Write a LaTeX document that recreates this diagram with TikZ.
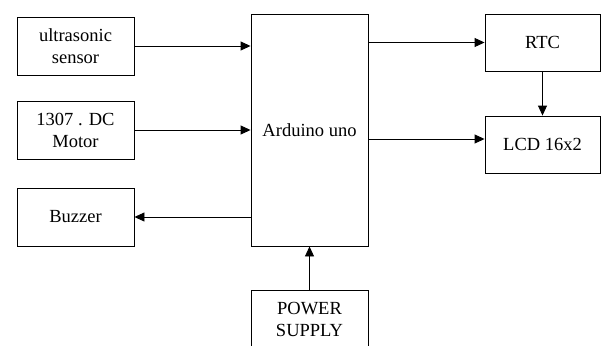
\documentclass[tikz,border=0pt]{standalone}
\usepackage{fontspec}
\setmainfont{Liberation Serif}
\usetikzlibrary{positioning,arrows.meta}

\begin{document}
\begin{tikzpicture}[x=1pt,y=-1pt,
  block/.style={rectangle,draw,line width=0.9pt,minimum width=117pt,minimum height=58pt,align=center,font=\fontsize{18.5}{22}\selectfont},
  arr/.style={line width=0.9pt,-{Triangle[length=10pt,width=9pt]}}]
  \useasboundingbox (0,0) rectangle (601,345);
  \node[block] (ultra) at (75.5,46) {ultrasonic\\sensor};
  \node[block] (motor) at (75.5,130) {1307 . DC\\Motor};
  \node[block] (buzz) at (75.5,217) {Buzzer};
  \node[block,minimum height=232pt] (ard) at (309.5,130) {Arduino uno};
  \node[block,minimum width=115pt,minimum height=57pt] (rtc) at (542.5,42.5) {RTC};
  \node[block,minimum width=115pt,minimum height=57pt] (lcd) at (542.5,144.5) {LCD 16x2};
  \node[block] (power) at (309.5,319) {POWER\\SUPPLY};
  \draw[arr] (ultra) -- (ultra -| ard.west);
  \draw[arr] (motor) -- (motor -| ard.west);
  \draw[arr] (buzz -| ard.west) -- (buzz);
  \draw[arr] (rtc -| ard.east) -- (rtc);
  \draw[arr] ([yshift=-9pt]ard.east) -- ([yshift=-9pt]ard.east -| lcd.west);
  \draw[arr] (rtc) -- (lcd);
  \draw[arr] (power) -- (ard);
\end{tikzpicture}
\end{document}
